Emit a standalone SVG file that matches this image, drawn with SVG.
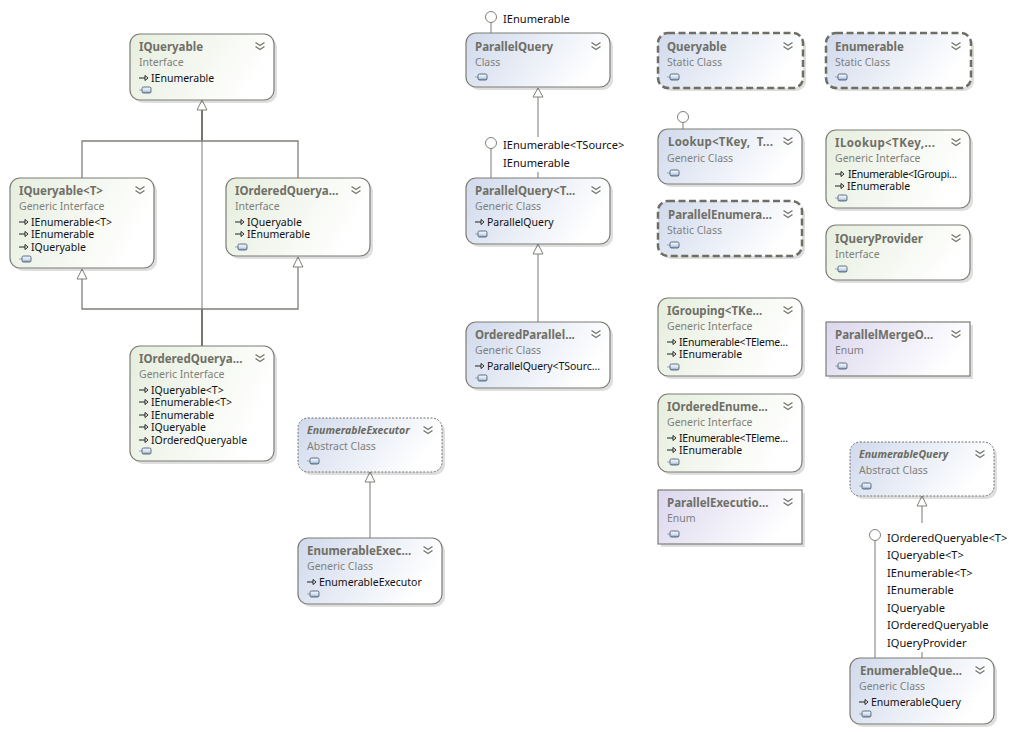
<svg xmlns="http://www.w3.org/2000/svg" width="1027" height="732" viewBox="0 0 1027 732">
<style>
text{font-family:"Noto Sans","Open Sans","Liberation Sans",sans-serif;font-size:10.5px;fill:#111;white-space:pre}
.t{font-size:11.5px;font-weight:700;fill:#6f6f66}
.ti{font-size:10.5px;font-weight:700;font-style:italic;fill:#6a6a60}
.s{fill:#80807a}
.l{font-size:11.1px}
.sh{fill:#000;opacity:.13}
.b{stroke:#7d7d74;stroke-width:1.2}
.d{stroke:#6e6e64;stroke-width:2.5;stroke-dasharray:7 3.5}
.a{stroke:#75756c;stroke-width:1;stroke-dasharray:2 1.5}
.i{fill:url(#gi)}.c{fill:url(#gc)}.e{fill:url(#ge)}
.w{fill:none;stroke:#a0a09a;stroke-width:1.4}
.x{fill:none;stroke:#808078;stroke-width:1.3}
.y{fill:none;stroke:#77776f;stroke-width:2}
.h{fill:#fff;stroke:#808078;stroke-width:1}
.o{fill:#fff;stroke:#808078;stroke-width:1}
</style>
<defs>
<linearGradient id="gi" x1="0" y1="0" x2="1" y2=".3"><stop offset="0" stop-color="#e6eede"/><stop offset="1" stop-color="#fff"/></linearGradient>
<linearGradient id="gc" x1="0" y1="0" x2="1" y2=".3"><stop offset="0" stop-color="#d0d9ec"/><stop offset="1" stop-color="#fff"/></linearGradient>
<linearGradient id="ge" x1="0" y1="0" x2="1" y2=".3"><stop offset="0" stop-color="#dbd6ee"/><stop offset="1" stop-color="#fff"/></linearGradient>
<linearGradient id="gp" x1="0" y1="0" x2="0" y2="1"><stop offset="0" stop-color="#f2f6fb"/><stop offset=".55" stop-color="#d6e2f0"/><stop offset="1" stop-color="#7f9dbf"/></linearGradient>
<g id="chev" fill="none" stroke="#77776e" stroke-width="1.4"><path d="M-4.500 -3.500L0 -.5L4.500 -3.500M-4.500 .5L0 3.500L4.500 .5"/></g>
<g id="pill"><path d="M-5 0H-2" stroke="#9ab" stroke-width="1"/><rect x="-2" y="-3" width="9" height="6" rx="1.500" fill="url(#gp)" stroke="#3f4f63" stroke-width=".8"/></g>
<g id="arr" fill="none" stroke="#222" stroke-width="1"><path d="M-5 0H1"/><path d="M1 -2.500L4 0L1 2.500Z" fill="#fff"/></g>
</defs>

<g id="connectors">
<path class="y" d="M202 110V141M202 309V346"/>
<path class="w" d="M202 141V309"/>
<path class="x" d="M82 178V141H298V178M82 279V309H298V267"/>
<path class="w" d="M370 482V538M538 97V137M538 172V178M491 22V33M491 148V178M538 254V322M683 122V129M922 506V523M922 652V658M875 541V658"/>
<path class="h" d="M202 100L207 110H197ZM82 269L87 279H77ZM298 257L303 267H293ZM370 472L375 482H365ZM538 88L543 97H533ZM538 244L543 254H533ZM922 496L927 506H917Z"/>
<circle class="o" cx="491" cy="17" r="5.500"/><circle class="o" cx="491" cy="143" r="5.500"/><circle class="o" cx="683" cy="117" r="5.500"/><circle class="o" cx="875" cy="535" r="5.500"/>
</g>
<g id="iface-labels">
<text class="l" x="503" y="23">IEnumerable</text>
<text class="l" x="503" y="149">IEnumerable&lt;TSource&gt;</text>
<text class="l" x="503" y="167">IEnumerable</text>
<text class="l" x="887" y="542">IOrderedQueryable&lt;T&gt;</text>
<text class="l" x="887" y="559">IQueryable&lt;T&gt;</text>
<text class="l" x="887" y="577">IEnumerable&lt;T&gt;</text>
<text class="l" x="887" y="594">IEnumerable</text>
<text class="l" x="887" y="612">IQueryable</text>
<text class="l" x="887" y="629">IOrderedQueryable</text>
<text class="l" x="887" y="647">IQueryProvider</text>
</g>

<g id="n-iqueryable" transform="translate(130,34)"><rect class="sh" x="3" y="3" width="144" height="66" rx="10"/><rect class="b i" width="144" height="66" rx="10"/><text class="t" x="9" y="17">IQueryable</text><text class="s" x="9" y="32">Interface</text><use href="#chev" x="130" y="12"/><use href="#arr" x="14" y="44"/><text x="21" y="48">IEnumerable</text><use href="#pill" x="14" y="56"/></g>

<g id="n-iqueryable-t" transform="translate(10,178)"><rect class="sh" x="3" y="3" width="144" height="90" rx="10"/><rect class="b i" width="144" height="90" rx="10"/><text class="t" x="9" y="17">IQueryable&lt;T&gt;</text><text class="s" x="9" y="32">Generic Interface</text><use href="#chev" x="130" y="12"/><use href="#arr" x="14" y="44"/><text x="21" y="48">IEnumerable&lt;T&gt;</text><use href="#arr" x="14" y="56"/><text x="21" y="60">IEnumerable</text><use href="#arr" x="14" y="69"/><text x="21" y="73">IQueryable</text><use href="#pill" x="14" y="81"/></g>

<g id="n-iorderedqueryable" transform="translate(226,178)"><rect class="sh" x="3" y="3" width="144" height="78" rx="10"/><rect class="b i" width="144" height="78" rx="10"/><text class="t" x="9" y="17">IOrderedQuerya...</text><text class="s" x="9" y="32">Interface</text><use href="#chev" x="130" y="12"/><use href="#arr" x="14" y="44"/><text x="21" y="48">IQueryable</text><use href="#arr" x="14" y="56"/><text x="21" y="60">IEnumerable</text><use href="#pill" x="14" y="69"/></g>

<g id="n-iorderedqueryable-t" transform="translate(130,346)"><rect class="sh" x="3" y="3" width="144" height="115" rx="10"/><rect class="b i" width="144" height="115" rx="10"/><text class="t" x="9" y="17">IOrderedQuerya...</text><text class="s" x="9" y="32">Generic Interface</text><use href="#chev" x="130" y="12"/><use href="#arr" x="14" y="44"/><text x="21" y="48">IQueryable&lt;T&gt;</text><use href="#arr" x="14" y="56"/><text x="21" y="60">IEnumerable&lt;T&gt;</text><use href="#arr" x="14" y="69"/><text x="21" y="73">IEnumerable</text><use href="#arr" x="14" y="81"/><text x="21" y="85">IQueryable</text><use href="#arr" x="14" y="94"/><text x="21" y="98">IOrderedQueryable</text><use href="#pill" x="14" y="105"/></g>

<g id="n-enumerableexecutor" transform="translate(298,418)"><rect class="sh" x="3" y="3" width="144" height="54" rx="10"/><rect class="a c" width="144" height="54" rx="10"/><text class="ti" x="9" y="16">EnumerableExecutor</text><text class="s" x="9" y="32">Abstract Class</text><use href="#chev" x="130" y="12"/><use href="#pill" x="14" y="43"/></g>

<g id="n-enumerableexecutor-t" transform="translate(298,538)"><rect class="sh" x="3" y="3" width="144" height="66" rx="10"/><rect class="b c" width="144" height="66" rx="10"/><text class="t" x="9" y="17">EnumerableExec...</text><text class="s" x="9" y="32">Generic Class</text><use href="#chev" x="130" y="12"/><use href="#arr" x="14" y="44"/><text x="21" y="48">EnumerableExecutor</text><use href="#pill" x="14" y="56"/></g>

<g id="n-parallelquery" transform="translate(466,33)"><rect class="sh" x="3" y="3" width="144" height="54" rx="10"/><rect class="b c" width="144" height="54" rx="10"/><text class="t" x="9" y="18">ParallelQuery</text><text class="s" x="9" y="33">Class</text><use href="#chev" x="130" y="13"/><use href="#pill" x="14" y="44"/></g>

<g id="n-parallelquery-t" transform="translate(466,178)"><rect class="sh" x="3" y="3" width="144" height="66" rx="10"/><rect class="b c" width="144" height="66" rx="10"/><text class="t" x="9" y="17">ParallelQuery&lt;T...</text><text class="s" x="9" y="32">Generic Class</text><use href="#chev" x="130" y="12"/><use href="#arr" x="14" y="44"/><text x="21" y="48">ParallelQuery</text><use href="#pill" x="14" y="56"/></g>

<g id="n-orderedparallelquery" transform="translate(466,322)"><rect class="sh" x="3" y="3" width="144" height="66" rx="10"/><rect class="b c" width="144" height="66" rx="10"/><text class="t" x="9" y="17">OrderedParallel...</text><text class="s" x="9" y="32">Generic Class</text><use href="#chev" x="130" y="12"/><use href="#arr" x="14" y="44"/><text x="21" y="48" textLength="113">ParallelQuery&lt;TSourc...</text><use href="#pill" x="14" y="56"/></g>

<g id="n-queryable" transform="translate(658,33)"><rect class="sh" x="3" y="3" width="145" height="55" rx="10"/><rect class="d c" width="145" height="55" rx="10"/><text class="t" x="9" y="18">Queryable</text><text class="s" x="9" y="33">Static Class</text><use href="#chev" x="130" y="13"/><use href="#pill" x="14" y="44"/></g>

<g id="n-enumerable" transform="translate(826,33)"><rect class="sh" x="3" y="3" width="145" height="55" rx="10"/><rect class="d c" width="145" height="55" rx="10"/><text class="t" x="9" y="18">Enumerable</text><text class="s" x="9" y="33">Static Class</text><use href="#chev" x="130" y="13"/><use href="#pill" x="14" y="44"/></g>

<g id="n-lookup" transform="translate(658,129)"><rect class="sh" x="3" y="3" width="144" height="55" rx="10"/><rect class="b c" width="144" height="55" rx="10"/><text class="t" x="10" y="17" textLength="105">Lookup&lt;TKey,  T...</text><text class="s" x="9" y="33">Generic Class</text><use href="#chev" x="130" y="12"/><use href="#pill" x="14" y="44"/></g>

<g id="n-ilookup" transform="translate(826,130)"><rect class="sh" x="3" y="3" width="144" height="78" rx="10"/><rect class="b i" width="144" height="78" rx="10"/><text class="t" x="9" y="17" textLength="100">ILookup&lt;TKey,...</text><text class="s" x="9" y="32">Generic Interface</text><use href="#chev" x="130" y="12"/><use href="#arr" x="14" y="44"/><text x="22" y="48" textLength="109">IEnumerable&lt;IGroupi...</text><use href="#arr" x="14" y="56"/><text x="21" y="60">IEnumerable</text><use href="#pill" x="14" y="68"/></g>

<g id="n-parallelenumerable" transform="translate(658,201)"><rect class="sh" x="3" y="3" width="144" height="55" rx="10"/><rect class="d c" width="144" height="55" rx="10"/><text class="t" x="10" y="18">ParallelEnumera...</text><text class="s" x="9" y="33">Static Class</text><use href="#chev" x="130" y="13"/><use href="#pill" x="14" y="44"/></g>

<g id="n-iqueryprovider" transform="translate(826,225)"><rect class="sh" x="3" y="3" width="144" height="55" rx="10"/><rect class="b i" width="144" height="55" rx="10"/><text class="t" x="9" y="18">IQueryProvider</text><text class="s" x="9" y="33">Interface</text><use href="#chev" x="130" y="13"/><use href="#pill" x="14" y="44"/></g>

<g id="n-igrouping" transform="translate(658,298)"><rect class="sh" x="3" y="3" width="144" height="78" rx="10"/><rect class="b i" width="144" height="78" rx="10"/><text class="t" x="9" y="17">IGrouping&lt;TKe...</text><text class="s" x="9" y="32">Generic Interface</text><use href="#chev" x="130" y="12"/><use href="#arr" x="14" y="44"/><text x="21" y="48" textLength="109">IEnumerable&lt;TEleme...</text><use href="#arr" x="14" y="56"/><text x="21" y="60">IEnumerable</text><use href="#pill" x="14" y="69"/></g>

<g id="n-parallelmergeoptions" transform="translate(826,322)"><rect class="sh" x="3" y="3" width="144" height="54"/><rect class="b e" width="144" height="54"/><text class="t" x="9" y="17">ParallelMergeO...</text><text class="s" x="9" y="32">Enum</text><use href="#chev" x="130" y="12"/><use href="#pill" x="14" y="44"/></g>

<g id="n-iorderedenumerable" transform="translate(658,394)"><rect class="sh" x="3" y="3" width="144" height="78" rx="10"/><rect class="b i" width="144" height="78" rx="10"/><text class="t" x="9" y="17">IOrderedEnume...</text><text class="s" x="9" y="32">Generic Interface</text><use href="#chev" x="130" y="12"/><use href="#arr" x="14" y="44"/><text x="21" y="48" textLength="109">IEnumerable&lt;TEleme...</text><use href="#arr" x="14" y="56"/><text x="21" y="60">IEnumerable</text><use href="#pill" x="14" y="68"/></g>

<g id="n-parallelexecutionmode" transform="translate(658,490)"><rect class="sh" x="3" y="3" width="144" height="54"/><rect class="b e" width="144" height="54"/><text class="t" x="9" y="17">ParallelExecutio...</text><text class="s" x="9" y="32">Enum</text><use href="#chev" x="130" y="12"/><use href="#pill" x="14" y="44"/></g>

<g id="n-enumerablequery" transform="translate(850,442)"><rect class="sh" x="3" y="3" width="144" height="54" rx="10"/><rect class="a c" width="144" height="54" rx="10"/><text class="ti" x="9" y="16">EnumerableQuery</text><text class="s" x="9" y="32">Abstract Class</text><use href="#chev" x="130" y="12"/><use href="#pill" x="14" y="44"/></g>

<g id="n-enumerablequery-t" transform="translate(850,658)"><rect class="sh" x="3" y="3" width="144" height="66" rx="10"/><rect class="b c" width="144" height="66" rx="10"/><text class="t" x="10" y="17">EnumerableQue...</text><text class="s" x="9" y="32">Generic Class</text><use href="#chev" x="130" y="12"/><use href="#arr" x="14" y="44"/><text x="21" y="48">EnumerableQuery</text><use href="#pill" x="14" y="56"/></g>
</svg>
